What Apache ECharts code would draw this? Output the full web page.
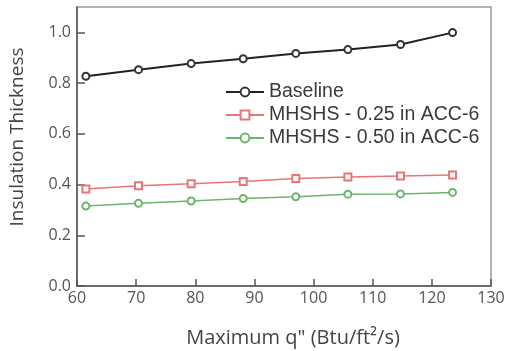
<!DOCTYPE html>
<html><head><meta charset="utf-8">
<script src="https://cdn.jsdelivr.net/npm/echarts@6/dist/echarts.min.js"></script>
<style>html,body{margin:0;padding:0;background:#fff}#c{width:509px;height:351px}</style>
</head><body><div id="c"></div>
<script>
var xValues = [61.5, 70.4, 79.3, 88.1, 97.0, 105.8, 114.7, 123.5];
var baseline = [0.827, 0.853, 0.877, 0.896, 0.917, 0.932, 0.952, 0.999];
var mhshs025 = [0.382, 0.395, 0.403, 0.412, 0.424, 0.430, 0.434, 0.438];
var mhshs050 = [0.315, 0.326, 0.335, 0.345, 0.352, 0.362, 0.363, 0.369];
var seriesNames = ['Baseline', 'MHSHS - 0.25 in ACC-6', 'MHSHS - 0.50 in ACC-6'];
var yTicks = [0, 0.2, 0.4, 0.6, 0.8, 1.0];
var xTitle = 'Maximum q" (Btu/ft\u00B2/s)';
var yTitle = 'Insulation Thickness';

function pairs(ys){ return xValues.map(function(x,i){ return [x, ys[i]]; }); }
var chart = echarts.init(document.getElementById('c'));
var font = 'Liberation Sans, Arial, sans-serif';
var afont = 'Open Sans, sans-serif';
chart.setOption({
  animation: false,
  grid: {left: 77, right: 18, top: 7, bottom: 65, show: true, borderColor: '#9a9a9a', borderWidth: 1.5},
  legend: {
    left: 220, top: 77, orient: 'vertical', itemGap: 3, itemWidth: 38, itemHeight: 11,
    textStyle: {fontFamily: font, fontSize: 19.5, color: '#3a3a3a'},
    data: seriesNames
  },
  graphic: [
    {type: 'text', x: 293, y: 338, style: {text: xTitle, font: '20px Open Sans', fill: '#444', align: 'center', verticalAlign: 'middle'}},
    {type: 'text', x: 18, y: 137, rotation: Math.PI / 2, style: {text: yTitle, font: '19px Open Sans', fill: '#444', align: 'center', verticalAlign: 'middle'}}
  ],
  xAxis: {
    type: 'value', min: 60, max: 130, interval: 10,
    axisLine: {lineStyle: {color: '#555', width: 1.5}},
    axisTick: {inside: true, length: 7, lineStyle: {color: '#555', width: 1.5}},
    axisLabel: {fontFamily: afont, fontSize: 16, color: '#555', margin: 4},
    splitLine: {show: false}
  },
  yAxis: {
    type: 'value', min: 0, max: 1.1,
    axisLine: {lineStyle: {color: '#555', width: 1.5}},
    axisTick: {inside: true, length: 8, customValues: yTicks, lineStyle: {color: '#555', width: 1.5}},
    axisLabel: {fontFamily: afont, fontSize: 16, color: '#555', margin: 6, customValues: yTicks, formatter: function(v){ return v.toFixed(1); }},
    splitLine: {show: false}
  },
  series: [
    {name: seriesNames[0], type: 'line', data: pairs(baseline), symbol: 'emptyCircle', symbolSize: 7,
     lineStyle: {color: '#222', width: 2}, itemStyle: {color: '#333', borderWidth: 1}},
    {name: seriesNames[1], type: 'line', data: pairs(mhshs025), symbol: 'emptyRect', symbolSize: 7,
     lineStyle: {color: '#e87575', width: 1.5}, itemStyle: {color: '#e87575', borderWidth: 1}},
    {name: seriesNames[2], type: 'line', data: pairs(mhshs050), symbol: 'emptyCircle', symbolSize: 7,
     lineStyle: {color: '#6cb56c', width: 1.5}, itemStyle: {color: '#6cb56c', borderWidth: 1}}
  ]
});
</script></body></html>
